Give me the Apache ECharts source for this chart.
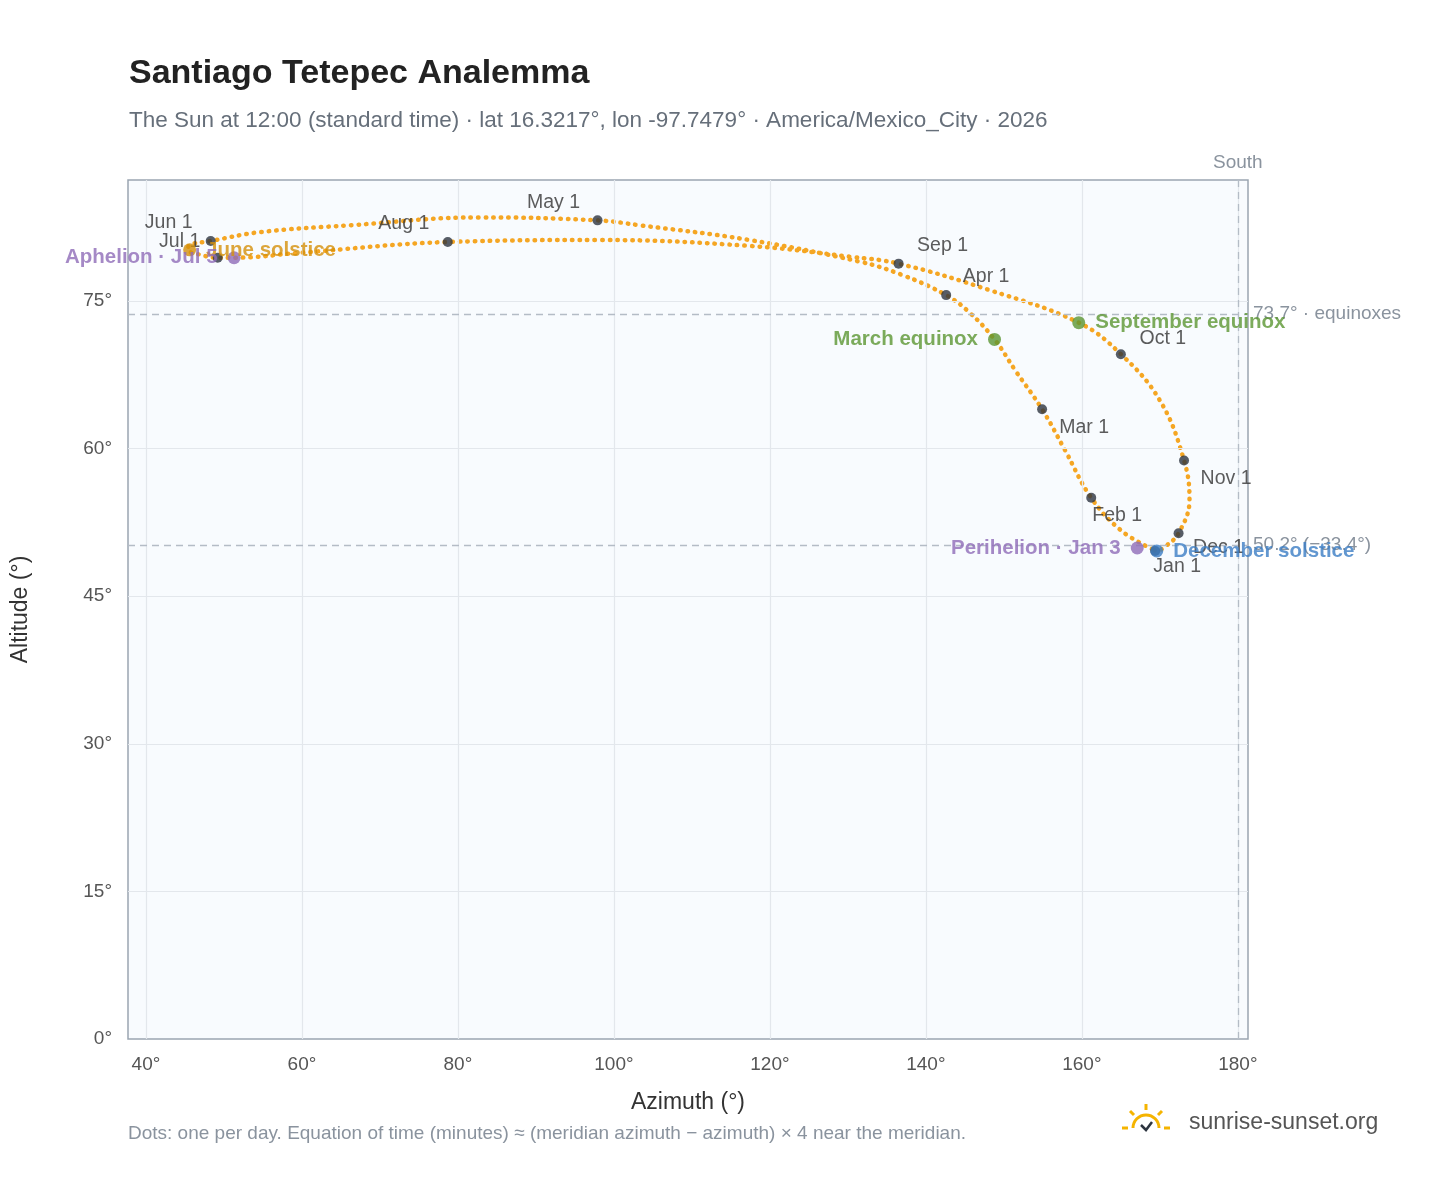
<!DOCTYPE html>
<html><head><meta charset="utf-8">
<script src="https://cdn.jsdelivr.net/npm/echarts@6/dist/echarts.min.js"></script>
<style>html,body{margin:0;padding:0;background:#fff}#c{width:1448px;height:1188px}</style>
</head><body><div id="c"></div>
<script>
// Path of the Sun at 12:00 through the year, Jan 1 -> Dec 31
const pathAz  = [169.0,165.0,161.2,157.8,154.9,151.5,148.8,145.5,142.6,136.8,131.5,117.4,103.3,97.9,82.8,66.2,54.6,48.3,45.6,45.4,47.0,49.2,51.3,59.7,78.7,98.2,117.4,130.3,136.5,148.2,159.6,165.0,170.0,173.1,173.8,172.4,170.6,169.6,169.0];
const pathAlt = [49.8,51.7,55.0,59.9,64.0,67.9,71.1,73.9,75.6,77.7,79.0,81.2,82.7,83.2,83.5,82.7,82.0,81.1,80.7,80.2,79.7,79.4,79.4,79.9,81.0,81.2,80.6,79.5,78.8,76.1,72.8,69.6,64.9,58.8,54.8,51.4,50.0,49.6,49.8];
// Month-start markers
const monthNames = ["Jan 1","Feb 1","Mar 1","Apr 1","May 1","Jun 1","Jul 1","Aug 1","Sep 1","Oct 1","Nov 1","Dec 1"];
const monthAz  = [169.4,161.2,154.9,142.6,97.9,48.3,49.2,78.7,136.5,165.0,173.1,172.4];
const monthAlt = [49.6,55.0,64.0,75.6,83.2,81.1,79.4,81.0,78.8,69.6,58.8,51.4];
// Events
const eventNames = ["March equinox","June solstice","Aphelion · Jul 5","September equinox","December solstice","Perihelion · Jan 3"];
const eventAz  = [148.8,45.6,51.3,159.6,169.6,167.1];
const eventAlt = [71.1,80.2,79.4,72.8,49.6,49.9];
const eventColors = ["#5b9632","#d4900a","#8e6bb8","#5b9632","#3b7dc4","#8e6bb8"];
const eventLabelPos = ["left","right","left","right","right","left"];
const xTicks = [40,60,80,100,120,140,160,180];
const yTicks = [0,15,30,45,60,75];

const monthLabelOffsets = {"Jan 1":[22,16],"Feb 1":[26,18],"Mar 1":[42,18],"Apr 1":[40,-18],"May 1":[-44,-18],"Jun 1":[-42,-18],"Jul 1":[-38,-16],"Aug 1":[-44,-18],"Sep 1":[44,-18],"Oct 1":[42,-16],"Nov 1":[42,18],"Dec 1":[40,14]};
const FF = '"Liberation Sans", Arial, sans-serif';

const chart = echarts.init(document.getElementById('c'));
chart.setOption({
  backgroundColor:'#fff',
  title:[{text:'Santiago Tetepec Analemma',left:124,top:52,textStyle:{fontFamily:FF,fontSize:34,fontWeight:'bold',color:'#222'}},
         {text:'The Sun at 12:00 (standard time) · lat 16.3217°, lon -97.7479° · America/Mexico_City · 2026',left:124,top:104,textStyle:{fontFamily:FF,fontSize:22.5,fontWeight:'normal',color:'#666f7a'}}],
  grid:{left:128,right:200,top:180,bottom:149,show:true,backgroundColor:'#f8fbfe',borderColor:'#9aa5b1',borderWidth:1.5},
  xAxis:{type:'value',min:37.7,max:181.3,name:'Azimuth (°)',nameLocation:'middle',nameGap:52,
    nameTextStyle:{fontFamily:FF,fontSize:23,color:'#333'},
    axisLine:{show:false},axisTick:{show:false},
    axisLabel:{fontFamily:FF,fontSize:19,color:'#555',margin:16,customValues:xTicks,formatter:v=>v+'°'},
    splitLine:{show:false}},
  yAxis:{type:'value',min:0,max:87.3,name:'Altitude (°)',nameLocation:'middle',nameGap:96,
    nameTextStyle:{fontFamily:FF,fontSize:23,color:'#333'},
    axisLine:{show:false},axisTick:{show:false},
    axisLabel:{fontFamily:FF,fontSize:19,color:'#555',margin:16,customValues:yTicks,formatter:v=>v+'°'},
    splitLine:{show:false}},
  series:[
    {type:'line',silent:true,data:[],
     markLine:{silent:true,symbol:'none',lineStyle:{color:'#e3e7ec',type:'solid',width:1.2},label:{show:false},
       data:xTicks.map(v=>({xAxis:v})).concat(yTicks.filter(v=>v>0).map(v=>({yAxis:v})))}},
    {type:'line',smooth:0.4,showSymbol:false,data:pathAz.map((a,i)=>[a,pathAlt[i]]),
     lineStyle:{color:'#f5a623',width:4.5,type:[0.5,7],cap:'round'},z:3,
     markLine:{silent:true,symbol:'none',lineStyle:{color:'#b4bcc6',type:[7,5],width:1.3},
       label:{position:'end',fontFamily:FF,fontSize:19,color:'#8a939e'},
       data:[{yAxis:73.7,label:{formatter:'73.7° · equinoxes'}},
             {yAxis:50.2,label:{formatter:'50.2° (−33.4°)'}},
             {xAxis:180,label:{formatter:'South',position:'end',distance:8}}]}},
    {type:'scatter',symbolSize:10,z:5,itemStyle:{color:'#2d3540'},
     data:monthNames.map((n,i)=>({value:[monthAz[i],monthAlt[i]],name:n,
       label:{show:true,formatter:n,position:'inside',offset:monthLabelOffsets[n],fontFamily:FF,fontSize:19.5,color:'#333'}}))},
    {type:'scatter',symbolSize:13,z:6,
     data:eventNames.map((n,i)=>({value:[eventAz[i],eventAlt[i]],name:n,itemStyle:{color:eventColors[i]},
       label:{show:true,formatter:n,position:eventLabelPos[i],distance:10,fontFamily:FF,fontSize:20.5,fontWeight:'bold',color:eventColors[i]}}))}
  ],
  graphic:[
    {type:'text',left:128,top:1124,style:{text:'Dots: one per day. Equation of time (minutes) ≈ (meridian azimuth − azimuth) × 4 near the meridian.',font:'19px "Liberation Sans"',fill:'#8a939e'}},
    {type:'text',left:1189,top:1111,style:{text:'sunrise-sunset.org',font:'23px "Liberation Sans"',fill:'#555'}},
    {type:'arc',shape:{cx:1146,cy:1128,r:13,startAngle:Math.PI,endAngle:2*Math.PI},style:{stroke:'#f5b400',lineWidth:3,fill:null}},
    {type:'polyline',shape:{points:[[1141,1125],[1146,1130],[1152,1122]]},style:{stroke:'#2d3540',lineWidth:2.5,fill:null}},
    {type:'line',shape:{x1:1146,y1:1104,x2:1146,y2:1110},style:{stroke:'#f5b400',lineWidth:3}},
    {type:'line',shape:{x1:1130,y1:1111,x2:1134,y2:1115},style:{stroke:'#f5b400',lineWidth:3}},
    {type:'line',shape:{x1:1162,y1:1111,x2:1158,y2:1115},style:{stroke:'#f5b400',lineWidth:3}},
    {type:'line',shape:{x1:1122,y1:1128,x2:1128,y2:1128},style:{stroke:'#f5b400',lineWidth:3}},
    {type:'line',shape:{x1:1164,y1:1128,x2:1170,y2:1128},style:{stroke:'#f5b400',lineWidth:3}}
  ]
});
</script></body></html>
